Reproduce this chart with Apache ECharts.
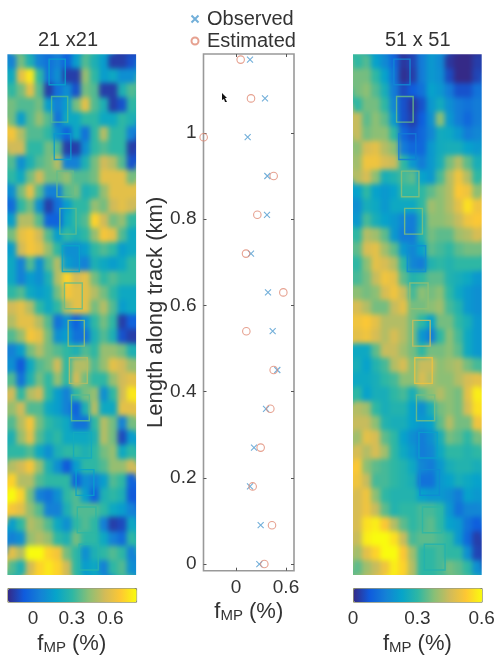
<!DOCTYPE html>
<html>
<head>
<meta charset="utf-8">
<style>html,body{margin:0;padding:0;background:#fff}#main{width:498px;height:656px}</style>
<script src="https://cdn.jsdelivr.net/npm/echarts@6/dist/echarts.min.js"></script>
</head>
<body>
<div id="main"></div>
<script>
// along-track positions of the 14 sampled boxes, top to bottom (km)
const lengthAlong = [1.17,1.08,0.99,0.9,0.81,0.72,0.63,0.54,0.45,0.36,0.27,0.18,0.09,0];
const observed = [0.168,0.348,0.14,0.376,0.372,0.18,0.384,0.44,0.496,0.36,0.216,0.168,0.296,0.28];
const estimated = [0.056,0.18,-0.388,0.452,0.256,0.12,0.568,0.124,0.452,0.412,0.296,0.2,0.432,0.34];

const yTicks = [0,0.2,0.4,0.6,0.8,1];
const xTicks = [0,0.6];
const barTicks = [0,0.3,0.6];

// across-track box centre and width (km)
const leftBoxCentre = [0.120,0.126,0.133,0.139,0.146,0.153,0.159,0.166,0.171,0.176,0.181,0.187,0.191,0.196];
const leftBoxWidth = [0.039,0.039,0.040,0.039,0.039,0.041,0.043,0.039,0.043,0.043,0.043,0.043,0.045,0.046];
const rightBoxCentre = [0.118,0.125,0.131,0.138,0.146,0.153,0.159,0.165,0.170,0.175,0.181,0.185,0.191,0.197];
const rightBoxWidth = [0.039,0.040,0.041,0.042,0.043,0.044,0.044,0.042,0.042,0.044,0.044,0.047,0.047,0.050];

// f_MP maps, top row first
const left21 = [
[0.05,0.4,0.25,0.05,0.0,0.05,-0.05,0.15,0.35,0.25,0.15,-0.15,-0.15,-0.1],
[0.2,0.6,0.75,0.3,0.0,0.1,-0.15,-0.15,0.45,0.3,0.15,0.2,0.1,0.1],
[0.3,0.4,0.6,0.35,-0.15,0.0,0.1,-0.1,0.4,0.35,-0.15,-0.15,0.25,0.35],
[0.4,0.35,0.35,0.4,0.15,0.05,0.15,0.4,0.6,0.35,0.25,-0.15,-0.1,0.3],
[0.4,0.15,0.35,0.45,0.35,0.0,0.2,0.2,0.3,0.3,0.2,0.2,0.3,0.25],
[0.65,0.5,0.35,0.35,0.3,0.1,-0.05,0.2,0.0,0.3,0.5,0.3,0.3,0.05],
[0.55,0.55,0.3,0.3,0.4,0.35,-0.15,-0.15,0.1,0.3,0.35,0.3,0.3,-0.15],
[0.35,0.1,0.25,0.35,0.4,0.5,0.05,0.05,0.25,0.4,0.55,0.5,0.35,-0.1],
[0.3,0.2,0.4,0.55,0.4,0.4,0.45,0.35,0.35,0.4,0.6,0.6,0.6,0.4],
[0.1,0.4,0.6,0.35,0.05,0.05,0.35,0.4,0.25,0.3,0.45,0.6,0.6,0.6],
[-0.02,0.3,0.4,0.1,-0.15,0.0,0.15,0.3,0.3,0.45,0.4,0.55,0.6,0.55],
[0.15,0.5,0.5,0.35,-0.05,-0.05,0.2,0.3,0.35,0.7,0.55,0.4,0.45,0.3],
[0.4,0.6,0.65,0.55,0.35,0.15,0.3,0.25,0.3,0.45,0.65,0.6,0.35,0.2],
[0.15,0.55,0.65,0.6,0.45,0.3,0.1,0.1,0.15,0.3,0.35,0.3,0.15,0.2],
[0.2,0.05,0.35,0.1,0.35,0.5,0.15,0.1,0.05,0.25,0.2,0.15,0.2,0.3],
[0.2,0.05,0.15,0.1,0.25,0.5,0.7,0.55,0.6,0.4,0.3,0.35,0.3,0.3],
[0.3,0.35,0.2,0.15,0.2,0.4,0.65,0.6,0.6,0.5,0.4,0.3,0.2,0.2],
[0.55,0.6,0.5,0.3,0.2,0.3,0.5,0.6,0.6,0.4,0.5,0.35,0.15,0.2],
[0.5,0.6,0.6,0.5,0.35,0.0,0.1,-0.05,0.1,0.3,0.4,0.3,-0.15,-0.05],
[0.35,0.45,0.65,0.6,0.4,0.1,0.15,0.0,0.0,0.25,0.35,0.25,-0.1,-0.15],
[0.05,0.15,0.4,0.5,0.4,0.35,0.3,0.25,0.35,0.3,0.45,0.45,0.4,0.25],
[0.1,-0.08,0.2,0.35,0.4,0.55,0.3,0.5,0.5,0.35,0.45,0.6,0.55,0.45],
[0.35,0.0,0.25,0.4,0.3,0.45,0.3,0.55,0.4,0.3,0.3,0.45,0.55,0.6],
[0.55,0.3,0.5,0.55,0.3,0.15,0.05,0.3,0.4,0.45,0.1,0.3,0.55,0.75],
[0.45,0.55,0.35,0.35,0.2,0.15,0.05,-0.05,0.25,0.5,0.2,0.2,0.6,0.6],
[0.35,0.5,0.65,0.4,0.3,0.25,0.2,0.0,0.0,0.3,0.5,0.4,0.05,0.4],
[0.25,0.45,0.6,0.35,0.25,0.3,0.2,0.2,0.2,0.25,0.5,0.4,-0.12,0.15],
[0.3,0.3,0.35,0.2,0.1,0.25,0.3,0.3,0.25,0.3,0.4,0.45,0.2,0.3],
[0.5,0.55,0.65,0.45,0.25,0.1,-0.08,0.15,0.3,0.3,0.35,0.45,0.45,0.55],
[0.7,0.5,0.5,0.35,0.3,0.3,0.3,-0.05,0.1,0.05,0.15,0.35,0.3,-0.05],
[0.8,0.7,0.4,0.05,0.0,0.1,0.3,0.35,0.15,-0.05,0.25,0.3,0.25,-0.08],
[0.65,0.6,0.45,0.35,0.05,0.05,0.25,0.35,0.35,0.35,0.3,0.2,0.15,0.05],
[0.15,0.3,0.5,0.45,0.35,0.2,0.1,0.3,0.35,0.3,0.05,-0.15,-0.12,0.2],
[0.05,0.1,0.45,0.5,0.45,0.3,0.25,0.4,0.3,0.3,0.2,0.05,-0.02,0.3],
[0.6,0.5,0.8,0.8,0.7,0.65,0.4,0.3,0.1,0.25,0.3,0.35,0.3,0.05],
[0.35,0.25,0.55,0.7,0.75,0.7,0.55,0.3,0.15,0.2,0.05,0.3,0.35,0.1]
];
const right51 = [
[0.3,0.33,0.22,0.17,0.1,0.02,0.04,0.14,0.2,0.17,0.02,0.0,0.0,0.03],
[0.36,0.36,0.3,0.22,0.12,0.01,0.03,0.14,0.2,0.18,0.05,0.0,0.0,0.04],
[0.36,0.38,0.33,0.26,0.14,0.05,0.08,0.12,0.22,0.2,0.14,0.06,0.06,0.12],
[0.3,0.36,0.36,0.3,0.16,0.06,0.02,0.06,0.2,0.25,0.18,0.14,0.12,0.14],
[0.44,0.34,0.38,0.34,0.2,0.06,0.03,0.08,0.18,0.38,0.2,0.14,0.1,0.14],
[0.44,0.36,0.38,0.38,0.3,0.1,0.06,0.1,0.16,0.25,0.24,0.2,0.14,0.16],
[0.38,0.46,0.48,0.42,0.38,0.14,0.1,0.1,0.2,0.25,0.26,0.26,0.22,0.2],
[0.4,0.5,0.5,0.46,0.44,0.3,0.2,0.14,0.2,0.26,0.36,0.42,0.34,0.26],
[0.42,0.46,0.38,0.26,0.28,0.32,0.34,0.22,0.2,0.32,0.42,0.5,0.42,0.3],
[0.22,0.3,0.22,0.2,0.22,0.3,0.3,0.3,0.34,0.38,0.42,0.52,0.5,0.38],
[0.18,0.26,0.24,0.2,0.24,0.24,0.24,0.3,0.4,0.38,0.42,0.48,0.56,0.5],
[0.2,0.32,0.26,0.22,0.2,0.16,0.14,0.26,0.38,0.38,0.4,0.44,0.5,0.52],
[0.3,0.42,0.4,0.34,0.2,0.14,0.14,0.28,0.36,0.34,0.34,0.4,0.42,0.46],
[0.34,0.46,0.48,0.4,0.34,0.2,0.16,0.22,0.34,0.32,0.3,0.34,0.36,0.36],
[0.3,0.38,0.48,0.46,0.42,0.3,0.16,0.14,0.28,0.3,0.28,0.3,0.3,0.3],
[0.32,0.36,0.44,0.5,0.48,0.34,0.28,0.3,0.34,0.34,0.28,0.26,0.24,0.2],
[0.38,0.36,0.38,0.46,0.5,0.44,0.32,0.38,0.36,0.38,0.3,0.24,0.2,0.18],
[0.46,0.42,0.36,0.36,0.44,0.48,0.36,0.36,0.38,0.4,0.32,0.28,0.2,0.18],
[0.5,0.52,0.48,0.42,0.42,0.42,0.36,0.3,0.22,0.36,0.36,0.3,0.26,0.2],
[0.48,0.5,0.46,0.42,0.46,0.42,0.36,0.2,0.14,0.3,0.38,0.32,0.24,0.2],
[0.24,0.24,0.34,0.44,0.44,0.4,0.36,0.3,0.36,0.36,0.38,0.34,0.24,0.2],
[0.26,0.22,0.28,0.32,0.42,0.46,0.38,0.44,0.44,0.38,0.4,0.42,0.36,0.32],
[0.24,0.24,0.26,0.3,0.32,0.38,0.38,0.46,0.42,0.38,0.38,0.42,0.46,0.48],
[0.3,0.22,0.26,0.26,0.3,0.32,0.26,0.34,0.38,0.42,0.38,0.36,0.48,0.58],
[0.42,0.4,0.3,0.26,0.28,0.28,0.22,0.18,0.26,0.36,0.38,0.36,0.46,0.56],
[0.44,0.44,0.38,0.28,0.26,0.26,0.22,0.2,0.22,0.34,0.42,0.36,0.36,0.5],
[0.4,0.48,0.46,0.34,0.3,0.22,0.18,0.14,0.18,0.26,0.36,0.34,0.3,0.36],
[0.46,0.42,0.46,0.4,0.3,0.24,0.2,0.14,0.16,0.24,0.3,0.3,0.28,0.3],
[0.52,0.38,0.34,0.32,0.3,0.28,0.24,0.16,0.14,0.2,0.26,0.28,0.28,0.26],
[0.5,0.44,0.32,0.32,0.3,0.28,0.26,0.12,0.12,0.2,0.22,0.26,0.24,0.22],
[0.46,0.5,0.38,0.3,0.28,0.28,0.28,0.22,0.2,0.2,0.18,0.14,0.22,0.2],
[0.46,0.5,0.44,0.34,0.28,0.3,0.3,0.32,0.32,0.3,0.2,0.12,0.16,0.16],
[0.46,0.56,0.58,0.52,0.42,0.34,0.3,0.32,0.34,0.3,0.22,0.2,0.12,0.08],
[0.44,0.58,0.6,0.6,0.56,0.44,0.32,0.34,0.34,0.32,0.3,0.2,0.1,0.03],
[0.4,0.48,0.54,0.6,0.6,0.52,0.4,0.3,0.3,0.32,0.3,0.3,0.18,0.04],
[0.34,0.4,0.44,0.5,0.58,0.54,0.42,0.3,0.3,0.32,0.36,0.34,0.3,0.18]
];

const parula = ['#352a87','#0f5cdd','#1481d6','#06a4ca','#2eb7a4','#87bf77','#d1bb59','#fec832','#f9fb0e'];
const font = 'Liberation Sans';
const textColor = '#333';

const chart = echarts.init(document.getElementById('main'), null, {renderer: 'canvas'});

function cells(rows) {
    var out = [];
    rows.forEach(function (row, r) {
        row.forEach(function (v, c) {
            out.push([c, r, v]);
        });
    });
    return out;
}

// [across, along, observed, width]
function boxes(centre, width) {
    return lengthAlong.map(function (y, i) {
        return [centre[i], y + 0.043, observed[i], width[i]];
    });
}

function renderBox(params, api) {
    var x = api.value(0), y = api.value(1), w = api.value(3) / 2;
    var a = api.coord([x - w, y + 0.031]);
    var b = api.coord([x + w, y - 0.031]);
    return {
        type: 'rect',
        shape: {x: a[0], y: a[1], width: b[0] - a[0], height: b[1] - a[1]},
        style: {fill: 'none', stroke: api.visual('color'), lineWidth: 1.4, opacity: 0.85}
    };
}

function mpName() {
    return {
        name: 'f{sub|MP} (%)',
        nameLocation: 'middle',
        nameMoveOverlap: false,
        nameTextStyle: {
            fontFamily: font, fontSize: 22, color: textColor,
            rich: {sub: {fontFamily: font, fontSize: 15, color: textColor, verticalAlign: 'bottom', padding: [8, 0, 0, 0]}}
        }
    };
}

const hidden = {show: false};
const noLine = {show: false, onZero: false};
function catAxis(n, grid, inverse) {
    return {
        type: 'category', gridIndex: grid, inverse: !!inverse,
        data: Array.from({length: n}, (_, i) => i),
        axisLine: hidden, axisTick: hidden, axisLabel: hidden, splitLine: hidden
    };
}
function kmAxis(grid, max) {
    return {
        type: 'value', gridIndex: grid, min: 0, max: max,
        axisLine: hidden, axisTick: hidden, axisLabel: hidden, splitLine: hidden
    };
}
function barAxis(grid, min, max) {
    return Object.assign({
        type: 'value', gridIndex: grid, min: min, max: max, nameGap: 35,
        axisLine: noLine, axisTick: hidden, splitLine: hidden,
        axisLabel: {customValues: barTicks, fontFamily: font, fontSize: 19, color: textColor, margin: 12, hideOverlap: false}
    }, mpName());
}

const panelTop = 54.3, panelH = 520.7, panelW = 128.7;
const leftX = 7.4, rightX = 353;
const midLeft = 203.5, midW = 90.5, midTop = 54, midH = 516.7;
const barTop = 588, barH = 13.7;
const xMin = -0.39, xMax = 0.696, yMin = -0.0155, yMax = 1.183;
const bleed = 10; // oversized copy under each map so the soft edge does not fade to white

const midTickStyle = {show: true, inside: true, length: 3, lineStyle: {color: '#555', width: 1}};

const option = {
    animation: false,
    backgroundColor: 'transparent',
    title: [
        {text: '21 x21', left: 33, top: 25, textStyle: {fontFamily: font, fontSize: 20, fontWeight: 'normal', color: textColor}},
        {text: '51 x 51', left: 380, top: 25, textStyle: {fontFamily: font, fontSize: 20, fontWeight: 'normal', color: textColor}}
    ],
    legend: {
        orient: 'vertical', left: 189, top: 9, itemWidth: 14, itemHeight: 7, itemGap: 2, padding: 0,
        textStyle: {fontFamily: font, fontSize: 20, color: textColor},
        data: ['Observed', 'Estimated']
    },
    grid: [
        {left: leftX, top: panelTop, width: panelW, height: panelH},
        {left: leftX, top: panelTop, width: panelW, height: panelH},
        {left: midLeft, top: midTop, width: midW, height: midH, show: true, borderColor: '#999', borderWidth: 1.6, backgroundColor: 'transparent'},
        {left: rightX, top: panelTop, width: panelW, height: panelH},
        {left: rightX, top: panelTop, width: panelW, height: panelH},
        {left: leftX, top: barTop, width: panelW, height: barH},
        {left: rightX, top: barTop, width: panelW, height: barH},
        {left: leftX - bleed, top: panelTop - bleed, width: panelW + 2 * bleed, height: panelH + 2 * bleed},
        {left: rightX - bleed, top: panelTop - bleed, width: panelW + 2 * bleed, height: panelH + 2 * bleed}
    ],
    xAxis: [
        catAxis(14, 0),
        kmAxis(1, 0.3103),
        Object.assign({
            type: 'value', gridIndex: 2, min: xMin, max: xMax, nameGap: 30,
            axisLine: noLine, splitLine: hidden,
            axisTick: Object.assign({customValues: xTicks}, midTickStyle),
            axisLabel: {customValues: xTicks, fontFamily: font, fontSize: 19, color: textColor, margin: 8}
        }, mpName()),
        {
            type: 'value', gridIndex: 2, position: 'top', min: xMin, max: xMax,
            axisLine: noLine, splitLine: hidden, axisLabel: hidden,
            axisTick: Object.assign({customValues: xTicks}, midTickStyle)
        },
        catAxis(14, 3),
        kmAxis(4, 0.3103),
        barAxis(5, -0.2, 0.8),
        barAxis(6, 0, 0.6),
        catAxis(14, 7),
        catAxis(14, 8)
    ],
    yAxis: [
        catAxis(36, 0, true),
        kmAxis(1, 1.2556),
        {
            type: 'value', gridIndex: 2, min: yMin, max: yMax,
            name: 'Length along track (km)', nameLocation: 'middle', nameGap: 37, nameMoveOverlap: false,
            nameTextStyle: {fontFamily: font, fontSize: 22, color: textColor},
            axisLine: noLine, splitLine: hidden,
            axisTick: Object.assign({customValues: yTicks}, midTickStyle),
            axisLabel: {customValues: yTicks, fontFamily: font, fontSize: 19, color: textColor, margin: 7}
        },
        {
            type: 'value', gridIndex: 2, position: 'right', min: yMin, max: yMax,
            axisLine: noLine, splitLine: hidden, axisLabel: hidden,
            axisTick: Object.assign({customValues: yTicks}, midTickStyle)
        },
        catAxis(36, 3, true),
        kmAxis(4, 1.2556),
        {type: 'value', gridIndex: 5, min: 0, max: 1, axisLine: noLine, axisTick: hidden, axisLabel: hidden, splitLine: hidden},
        {type: 'value', gridIndex: 6, min: 0, max: 1, axisLine: noLine, axisTick: hidden, axisLabel: hidden, splitLine: hidden},
        catAxis(36, 7, true),
        catAxis(36, 8, true)
    ],
    visualMap: [
        {
            type: 'continuous', min: -0.2, max: 0.8, dimension: 2, seriesIndex: [0, 1, 2],
            orient: 'horizontal', left: leftX, top: barTop, itemWidth: barH, itemHeight: panelW,
            padding: 0, calculable: false, hoverLink: false, realtime: false, text: null,
            borderColor: '#8a8a60', borderWidth: 1,
            inRange: {color: parula}
        },
        {
            type: 'continuous', min: 0, max: 0.6, dimension: 2, seriesIndex: [5, 6, 7],
            orient: 'horizontal', left: rightX, top: barTop, itemWidth: barH, itemHeight: panelW,
            padding: 0, calculable: false, hoverLink: false, realtime: false, text: null,
            borderColor: '#8a8a60', borderWidth: 1,
            inRange: {color: parula}
        }
    ],
    series: [
        {type: 'heatmap', xAxisIndex: 8, yAxisIndex: 8, data: cells(left21), silent: true, zlevel: -1, z: 1},
        {type: 'heatmap', xAxisIndex: 0, yAxisIndex: 0, data: cells(left21), silent: true, zlevel: -1, z: 2},
        {type: 'custom', xAxisIndex: 1, yAxisIndex: 1, data: boxes(leftBoxCentre, leftBoxWidth), renderItem: renderBox, encode: {x: 0, y: 1}, silent: true, z: 5},
        {
            type: 'scatter', name: 'Observed', xAxisIndex: 2, yAxisIndex: 2, clip: false,
            symbol: 'path://M0,0L10,10M10,0L0,10', symbolSize: 6, silent: true,
            itemStyle: {color: 'none', borderColor: '#4f9bd0', borderWidth: 1.1},
            data: observed.map((v, i) => [v, lengthAlong[i]])
        },
        {
            type: 'scatter', name: 'Estimated', xAxisIndex: 2, yAxisIndex: 2, clip: false,
            symbol: 'circle', symbolSize: 7.5, silent: true,
            itemStyle: {color: 'none', borderColor: '#e08a74', borderWidth: 1.1},
            data: estimated.map((v, i) => [v, lengthAlong[i]])
        },
        {type: 'heatmap', xAxisIndex: 9, yAxisIndex: 9, data: cells(right51), silent: true, zlevel: -1, z: 1},
        {type: 'heatmap', xAxisIndex: 4, yAxisIndex: 4, data: cells(right51), silent: true, zlevel: -1, z: 2},
        {type: 'custom', xAxisIndex: 5, yAxisIndex: 5, data: boxes(rightBoxCentre, rightBoxWidth), renderItem: renderBox, encode: {x: 0, y: 1}, silent: true, z: 5}
    ],
    graphic: [
        // stray mouse pointer in the source figure
        {type: 'polygon', left: 222, top: 93, silent: true, shape: {points: [[0, 0], [5, 5], [3, 5], [5, 9], [3, 9], [2, 6], [0, 7]]}, style: {fill: '#111'}}
    ]
};

chart.setOption(option);

// the maps sit on their own layer: soften them like the source scan, cut back to the panels
var mapLayer = document.querySelector('canvas[data-zr-dom-id="zr_-1"]');
if (mapLayer) {
    mapLayer.style.filter = 'blur(2.5px)';
    mapLayer.style.clipPath = "path('M" + leftX + " " + panelTop + "h" + panelW + "v" + panelH + "h-" + panelW + "z"
        + "M" + rightX + " " + panelTop + "h" + panelW + "v" + panelH + "h-" + panelW + "z')";
}
</script>
</body>
</html>
